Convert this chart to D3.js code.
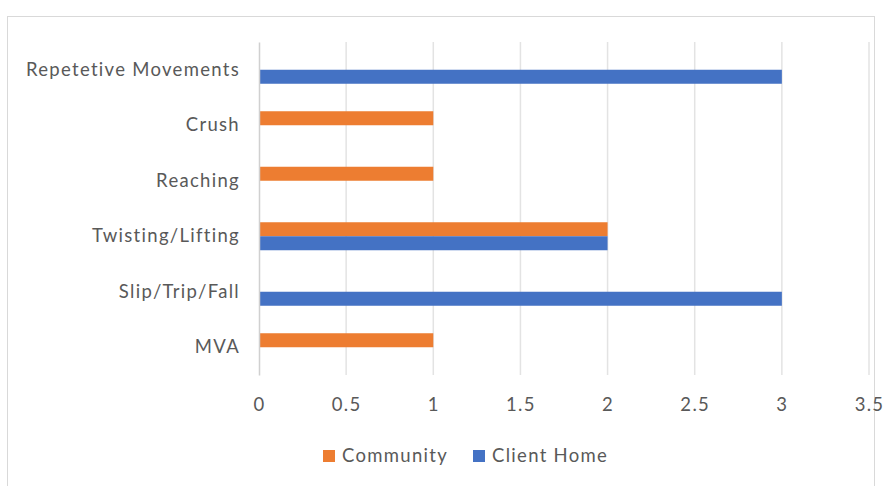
<!DOCTYPE html>
<html>
<head>
<meta charset="utf-8">
<script src="https://cdn.jsdelivr.net/npm/d3@7"></script>
<style>
  html, body { margin: 0; padding: 0; background: #fff; }
  svg { display: block; }
  text { font-family: Lato, "Noto Sans", sans-serif; fill: #595959; letter-spacing: 1.3px; }
</style>
</head>
<body>
<svg id="chart" width="888" height="486"></svg>
<script>
// Injury causes, listed top to bottom
const categories = ["Repetetive Movements", "Crush", "Reaching", "Twisting/Lifting", "Slip/Trip/Fall", "MVA"];
const seriesNames = ["Community", "Client Home"];
const community  = [0, 1, 1, 2, 0, 1];
const clientHome = [3, 0, 0, 2, 3, 0];
const xTicks = [0, 0.5, 1, 1.5, 2, 2.5, 3, 3.5];
const colors = ["#ED7D31", "#4472C4"];

const svg = d3.select("#chart");
const W = 888, H = 486;
const margin = { left: 259, right: 19, top: 42, bottom: 111 };
const fontSize = "18.5px";

// chart frame
svg.append("rect")
  .attr("x", 7.5).attr("y", 16.5)
  .attr("width", 867).attr("height", 470)
  .attr("fill", "none").attr("stroke", "#d9d9d9");

const x = d3.scaleLinear().domain([0, 3.5]).range([margin.left, W - margin.right]);
const y = d3.scaleBand().domain(categories).range([margin.top, H - margin.bottom]);
const ySub = d3.scaleBand().domain(seriesNames).range([y.bandwidth() / 2 - 14, y.bandwidth() / 2 + 14]);

// vertical gridlines
svg.append("g")
  .selectAll("line").data(xTicks.slice(1)).join("line")
  .attr("x1", d => x(d)).attr("x2", d => x(d))
  .attr("y1", margin.top).attr("y2", H - margin.bottom)
  .attr("stroke", "#e3e3e3").attr("stroke-width", 1.5);

// bars
const rows = categories.map((c, i) => ({ cat: c, vals: [community[i], clientHome[i]] }));
const g = svg.append("g");
rows.forEach(r => {
  r.vals.forEach((v, j) => {
    if (v <= 0) return;
    g.append("rect")
      .attr("x", x(0))
      .attr("y", y(r.cat) + ySub(seriesNames[j]))
      .attr("width", x(v) - x(0))
      .attr("height", ySub.bandwidth())
      .attr("fill", colors[j]);
  });
});

// category axis
const yAxis = svg.append("g")
  .attr("transform", `translate(${x(0)},0)`)
  .call(d3.axisLeft(y).tickSize(0).tickPadding(19));
yAxis.select(".domain").attr("stroke", "#d0d0d0").attr("stroke-width", 1.5);
yAxis.selectAll("text").style("font-size", fontSize).attr("fill", "#595959");

// value axis
const xAxis = svg.append("g")
  .attr("transform", `translate(0,${H - margin.bottom})`)
  .call(d3.axisBottom(x).tickValues(xTicks).tickFormat(d3.format("")).tickSize(0).tickPadding(23));
xAxis.select(".domain").remove();
xAxis.selectAll("text").style("font-size", fontSize).attr("fill", "#595959");

// legend
const legend = svg.append("g").attr("transform", "translate(323,456)");
const items = [{ name: "Community", c: colors[0], dx: 0 }, { name: "Client Home", c: colors[1], dx: 150 }];
items.forEach(it => {
  legend.append("rect").attr("x", it.dx).attr("y", -6).attr("width", 12).attr("height", 12).attr("fill", it.c);
  legend.append("text").attr("x", it.dx + 19).attr("y", 0).attr("dy", "0.35em")
    .style("font-size", fontSize).text(it.name);
});
</script>
</body>
</html>
